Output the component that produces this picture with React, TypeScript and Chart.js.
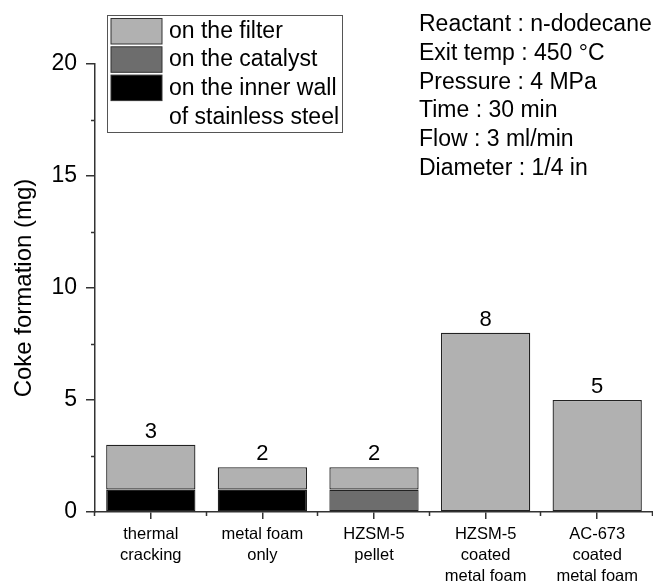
import React, { useEffect, useRef } from "react";
import { Chart, registerables } from "chart.js";

Chart.register(...registerables);

const categories: string[][] = [
  ["thermal", "cracking"],
  ["metal foam", "only"],
  ["HZSM-5", "pellet"],
  ["HZSM-5", "coated", "metal foam"],
  ["AC-673", "coated", "metal foam"],
];
const innerWall: (number | null)[] = [1, 1, null, null, null];
const catalyst: (number | null)[] = [null, null, 1, null, null];
const filter: (number | null)[] = [2, 1, 1, 8, 5];
const totals: number[] = [3, 2, 2, 8, 5];
const legendLabels: string[] = ["on the filter", "on the catalyst", "on the inner wall", "of stainless steel"];
const conditions: string[] = [
  "Reactant : n-dodecane",
  "Exit temp : 450 °C",
  "Pressure : 4 MPa",
  "Time : 30 min",
  "Flow : 3 ml/min",
  "Diameter : 1/4 in",
];
const yMinorTicks: number[] = [2.5, 7.5, 12.5, 17.5];

const FONT = "'Liberation Sans', Arial, sans-serif";
const FILTER_COLOR = "#b1b1b1";
const CATALYST_COLOR = "#6d6d6d";
const WALL_COLOR = "#000000";
const AXIS_COLOR = "#333333";
const TEXT_COLOR = "#000000";

const overlayPlugin = {
  id: "overlay",
  afterDraw(chart: any) {
    const ctx = chart.ctx as CanvasRenderingContext2D;
    const xs = chart.scales.x;
    const ys = chart.scales.y;
    const area = chart.chartArea;
    ctx.save();
    // minor ticks
    ctx.strokeStyle = AXIS_COLOR;
    ctx.lineWidth = 1.5;
    ctx.beginPath();
    yMinorTicks.forEach((v) => {
      const py = Math.round(ys.getPixelForValue(v)) + 0.5;
      ctx.moveTo(area.left - 4, py);
      ctx.lineTo(area.left, py);
    });
    const n = categories.length;
    const w = (area.right - area.left) / n;
    for (let k = 0; k <= n; k++) {
      const px = Math.round(area.left + k * w) - 0.5;
      ctx.moveTo(px, area.bottom);
      ctx.lineTo(px, area.bottom + 4);
    }
    ctx.stroke();

    // value labels
    ctx.fillStyle = TEXT_COLOR;
    ctx.font = `22px ${FONT}`;
    ctx.textAlign = "center";
    ctx.textBaseline = "bottom";
    totals.forEach((t, i) => {
      const px = xs.getPixelForValue(i);
      const py = ys.getPixelForValue(t);
      ctx.fillText(String(t), px, py - 2);
    });

    // legend
    ctx.strokeStyle = "#555555";
    ctx.lineWidth = 1;
    ctx.strokeRect(107.5, 15.5, 235, 117);
    const sw = [FILTER_COLOR, CATALYST_COLOR, WALL_COLOR];
    sw.forEach((c, i) => {
      const top = 18.5 + i * 28.3;
      ctx.fillStyle = c;
      ctx.fillRect(111, top, 51, 25.5);
      ctx.strokeStyle = "#333333";
      ctx.lineWidth = 1;
      ctx.strokeRect(111, top, 51, 25.5);
    });
    ctx.fillStyle = TEXT_COLOR;
    ctx.textAlign = "left";
    ctx.textBaseline = "middle";
    ctx.font = `23px ${FONT}`;
    const ly = [31.7, 60, 88.5, 118];
    legendLabels.forEach((l, i) => ctx.fillText(l, 169, ly[i]));

    // conditions
    conditions.forEach((l, i) => ctx.fillText(l, 419, 25 + i * 28.7));
    ctx.restore();
  },
};

export default function App() {
  const ref = useRef<HTMLCanvasElement | null>(null);
  useEffect(() => {
    if (!ref.current) return;
    const ds = (label: string, data: (number | null)[], color: string) => ({
      label,
      data,
      backgroundColor: color,
      borderColor: "#222222",
      borderWidth: 1.3,
      borderSkipped: false,
      barPercentage: 0.8,
      categoryPercentage: 1,
    });
    const chart = new Chart(ref.current, {
      type: "bar",
      data: {
        labels: categories,
        datasets: [
          ds("on the inner wall of stainless steel", innerWall, WALL_COLOR),
          ds("on the catalyst", catalyst, CATALYST_COLOR),
          ds("on the filter", filter, FILTER_COLOR),
        ],
      },
      options: {
        animation: false,
        responsive: false,
        layout: { padding: { top: 64, left: 0, right: 0, bottom: 0 } },
        plugins: { legend: { display: false }, tooltip: { enabled: false } },
        scales: {
          x: {
            stacked: true,
            afterFit: (s: any) => {
              s.height = 70;
            },
            grid: {
              display: true,
              drawOnChartArea: false,
              drawTicks: true,
              tickLength: 7,
              offset: false,
              color: AXIS_COLOR,
              lineWidth: 1.5,
            },
            border: { display: true, color: AXIS_COLOR, width: 1.5 },
            ticks: {
              color: TEXT_COLOR,
              font: { family: FONT, size: 16.5, lineHeight: 1.28 },
              padding: 5,
              maxRotation: 0,
              autoSkip: false,
            },
          },
          y: {
            stacked: true,
            min: 0,
            max: 20,
            afterFit: (s: any) => {
              s.width = 95;
            },
            grid: {
              display: true,
              drawOnChartArea: false,
              drawTicks: true,
              tickLength: 9,
              color: AXIS_COLOR,
              lineWidth: 1.5,
            },
            border: { display: true, color: AXIS_COLOR, width: 1.5 },
            ticks: {
              stepSize: 5,
              color: TEXT_COLOR,
              font: { family: FONT, size: 23 },
              padding: 9,
            },
            title: {
              display: true,
              text: "Coke formation (mg)",
              color: TEXT_COLOR,
              font: { family: FONT, size: 24 },
              padding: { top: 10, bottom: 0 },
            },
          },
        },
      },
      plugins: [overlayPlugin],
    });
    return () => chart.destroy();
  }, []);
  return (
    <div style={{ position: "absolute", left: 0, top: 0, width: 653, height: 582, background: "#fff" }}>
      <canvas ref={ref} width={653} height={582} style={{ display: "block" }} />
    </div>
  );
}
